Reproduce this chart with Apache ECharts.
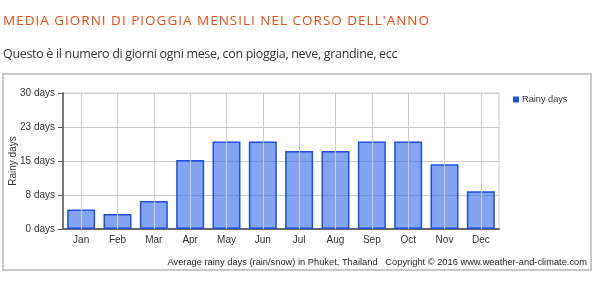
<!DOCTYPE html>
<html>
<head>
<meta charset="utf-8">
<script src="https://cdn.jsdelivr.net/npm/echarts@6/dist/echarts.min.js"></script>
<style>
html,body{margin:0;padding:0;background:#fff;}
#wrap{position:relative;width:600px;height:282px;}
#chart{position:absolute;left:0;top:0;width:600px;height:282px;}
.hdr{position:absolute;left:3px;white-space:nowrap;font-family:'Open Sans',sans-serif;z-index:2;}
#title{top:11px;font-size:13.5px;color:#ef4a12;letter-spacing:1px;}
#subtitle{top:45px;font-size:12.5px;color:#333;letter-spacing:-0.32px;}
</style>
</head>
<body>
<div id="wrap">
<div id="chart"></div>
<div id="title" class="hdr"></div>
<div id="subtitle" class="hdr"></div>
</div>
<script>
const titleText = "MEDIA GIORNI DI PIOGGIA MENSILI NEL CORSO DELL'ANNO";
const subtitleText = "Questo è il numero di giorni ogni mese, con pioggia, neve, grandine, ecc";
const captionText = "Average rainy days (rain/snow) in Phuket, Thailand   Copyright © 2016 www.weather-and-climate.com";
const seriesName = "Rainy days";
const yAxisName = "Rainy days";
const months = ["Jan","Feb","Mar","Apr","May","Jun","Jul","Aug","Sep","Oct","Nov","Dec"];
const rainyDays = [4.3, 3.3, 6.2, 15.2, 19.3, 19.3, 17.2, 17.2, 19.3, 19.3, 14.3, 8.3];
const yMin = 0, yMax = 30, yStep = 7.5;

document.getElementById('title').textContent = titleText;
document.getElementById('subtitle').textContent = subtitleText;

const chart = echarts.init(document.getElementById('chart'), null, {renderer: 'canvas'});
const axisFont = {fontFamily: 'Liberation Sans, Arial, sans-serif', fontSize: 10, color: '#333'};

chart.setOption({
  animation: false,
  backgroundColor: '#fff',
  graphic: [
    {type: 'rect', shape: {x: 3, y: 74, width: 588, height: 196}, z: -10,
     style: {fill: '#fff', stroke: '#c8c8c8', lineWidth: 2}},
    {type: 'text', right: 13, top: 258,
     style: {text: captionText, font: '9.3px Liberation Sans, Arial, sans-serif', fill: '#222'}}
  ],
  legend: {
    show: true, left: 508, top: 90, itemWidth: 6, itemHeight: 6, itemGap: 6,
    icon: 'rect',
    data: [{name: seriesName, itemStyle: {color: '#1f4fe0', borderWidth: 0}}],
    textStyle: {fontFamily: 'Liberation Sans, Arial, sans-serif', fontSize: 9.2, color: '#333', padding: [0,0,0,-2]}
  },
  grid: {left: 63, right: 101, top: 93, bottom: 53, containLabel: false, outerBoundsMode: 'none',
         show: true, borderColor: '#cccccc', borderWidth: 1},
  xAxis: {
    type: 'category', data: months, boundaryGap: true,
    axisLine: {lineStyle: {color: '#666', width: 2}},
    axisTick: {alignWithLabel: true, length: 4, lineStyle: {color: '#555'}},
    axisLabel: Object.assign({margin: 6}, axisFont),
    splitLine: {show: false}
  },
  yAxis: {
    type: 'value', min: yMin, max: yMax, interval: yStep,
    name: yAxisName, nameLocation: 'middle', nameGap: 45, nameRotate: 90, nameMoveOverlap: false,
    nameTextStyle: axisFont,
    axisLine: {show: true, lineStyle: {color: '#777', width: 2}},
    axisTick: {show: true, length: 5, lineStyle: {color: '#555'}},
    axisLabel: Object.assign({margin: 8, formatter: v => Math.round(v) + ' days'}, axisFont),
    splitLine: {show: true, lineStyle: {color: '#cccccc', width: 1}}
  },
  series: [
    {
      name: 'vgrid', type: 'line', data: [], z: 1, silent: true,
      markLine: {
        silent: true, symbol: ['none', 'none'], label: {show: false},
        lineStyle: {color: '#cccccc', width: 1, type: 'solid'},
        emphasis: {disabled: true},
        data: months.map(m => ({xAxis: m}))
      }
    },
    {
      name: seriesName, type: 'bar', data: rainyDays, barCategoryGap: '23%', z: 3,
      itemStyle: {color: 'rgba(30,90,230,0.55)', borderColor: '#1f4fe0', borderWidth: 1.5}
    }
  ]
});
</script>
</body>
</html>
